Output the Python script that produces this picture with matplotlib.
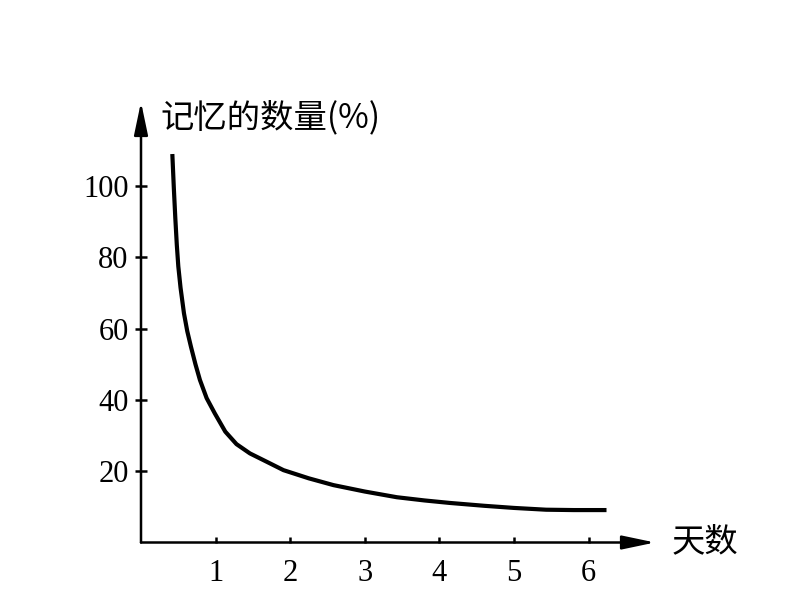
import matplotlib
matplotlib.use("Agg")
import matplotlib.pyplot as plt

# forgetting curve
days = [0.42, 0.44, 0.46, 0.48, 0.50, 0.53, 0.576, 0.62, 0.67, 0.73, 0.79, 0.88, 0.99, 1.13,
        1.28, 1.46, 1.70, 1.91, 2.25, 2.58, 3.0, 3.43, 3.8, 4.14, 4.6, 5.0, 5.43, 5.8, 6.24]
memory = [109, 99.5, 91, 83.5, 77.5, 71.5, 64.3, 59.3, 54.9, 50, 45.6, 40.5, 36.2, 31.1,
          27.6, 25, 22.5, 20.3, 18, 16.1, 14.3, 12.7, 11.8, 11.1, 10.3, 9.7, 9.2, 9.1, 9.1]
xticks = [1, 2, 3, 4, 5, 6]
yticks = [20, 40, 60, 80, 100]
ylabel = "记忆的数量(%)"
xlabel = "天数"

W, H = 807, 590
fig = plt.figure(figsize=(W / 100, H / 100), dpi=100)
# axes box in pixels: origin (141, 542.5), right end 655, top 102
x0, y0, x1, y1 = 141, 542.5, 655, 102
ax = fig.add_axes([x0 / W, 1 - y0 / H, (x1 - x0) / W, (y0 - y1) / H])
ax.set_xlim(0, 6.89)
ax.set_ylim(0, 123.6)

for s in ax.spines.values():
    s.set_visible(False)

arrow = dict(arrowstyle="-|>,head_length=2.0,head_width=0.42", color="k", lw=1.8,
             shrinkA=0, shrinkB=0)
ax.annotate("", xy=(1, 0), xytext=(0, 0), xycoords="axes fraction", arrowprops=arrow)
ax.annotate("", xy=(0, 1), xytext=(0, 0), xycoords="axes fraction", arrowprops=arrow)

ax.plot(days, memory, color="k", lw=3, solid_capstyle="butt", solid_joinstyle="round")

serif = "Liberation Serif"
ax.set_xticks(xticks)
ax.set_yticks(yticks)
ax.set_xticklabels([str(t) for t in xticks], family=serif, fontsize=22)
ax.set_yticklabels([str(t) for t in yticks], family=serif, fontsize=22)
ax.tick_params(axis="x", direction="in", length=4.5, width=1.8, pad=12)
ax.tick_params(axis="y", direction="inout", length=8, width=1.8, pad=5)

cjk = ["Noto Sans CJK SC", "DejaVu Sans"]
fig.text(160 / W, 1 - 118 / H, ylabel, family=cjk, fontsize=24, va="center", ha="left")
fig.text(672 / W, 1 - 542 / H, xlabel, family=cjk, fontsize=24, va="center", ha="left")

fig.savefig("out.png", dpi=100)
